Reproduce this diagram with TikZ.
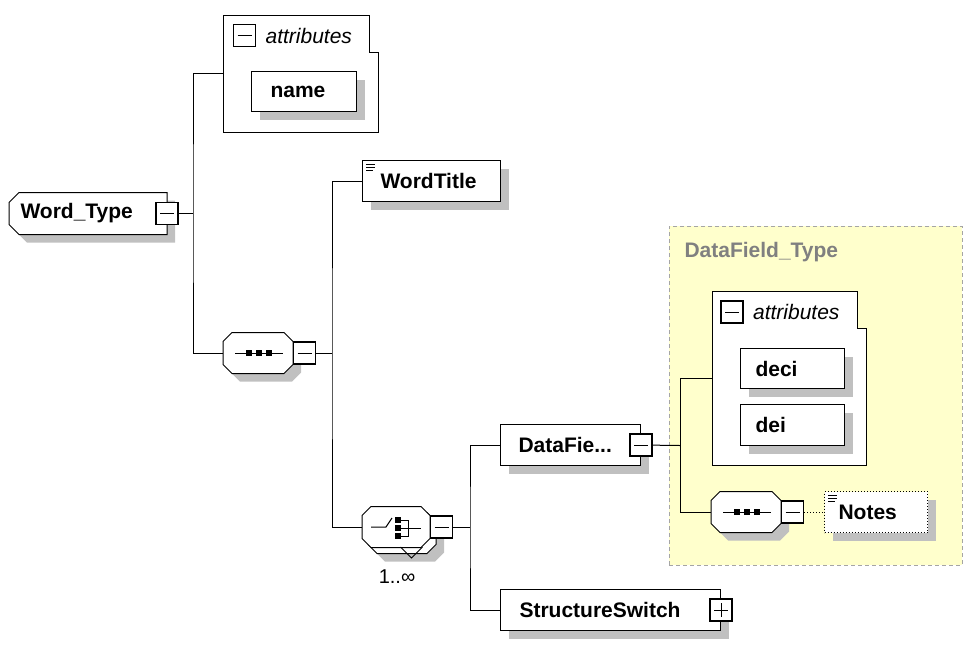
\documentclass[tikz,border=0pt]{standalone}
\usepackage{fontspec}
\setmainfont{Liberation Sans}
\usetikzlibrary{positioning,calc,shadows,backgrounds}

\definecolor{shadowgray}{RGB}{192,192,192}
\definecolor{typeyellow}{RGB}{255,255,204}
\definecolor{typeframe}{RGB}{165,165,165}
\definecolor{typetext}{RGB}{128,128,128}

\tikzset{
  lbl/.style={font=\fontsize{21}{25}\selectfont\bfseries},
  shade/.style={drop shadow={shadow xshift=8pt, shadow yshift=-8pt, fill=shadowgray, opacity=1}},
  elem/.style={lbl, draw, fill=white, anchor=north west, minimum height=41pt, align=left, shade},
  compo/.style={anchor=west, minimum width=69pt, minimum height=40pt, inner sep=0pt},
  group/.style={anchor=north west, inner sep=0pt, outer sep=0pt},
  typebox/.style={group, draw=typeframe, dash pattern=on 4pt off 3pt, fill=typeyellow},
  boxsign/.style={draw, fill=white, line width=1.2pt, minimum size=22pt, inner sep=0pt},
  minus/.style={boxsign, path picture={\draw[line width=0.8pt] ([xshift=4pt]path picture bounding box.west) -- ([xshift=-4pt]path picture bounding box.east);}},
  plus/.style={boxsign, path picture={\draw[line width=0.8pt] ([xshift=4pt]path picture bounding box.west) -- ([xshift=-4pt]path picture bounding box.east);
    \draw[line width=0.8pt] ([yshift=-4pt]path picture bounding box.north) -- ([yshift=4pt]path picture bounding box.south);}},
  attrtext/.style={font=\fontsize{21}{25}\selectfont\itshape, anchor=west, inner sep=0pt}
}

% outline with cut corners round a node (left cut, right cut)
\newcommand{\octframe}[4][]{%
  \draw[fill=white, line width=1pt, #1] ($(#2.north west)+(#3,0)$) -- ($(#2.north east)+(-#4,0)$) -- ($(#2.north east)+(0,#4)$)
    -- ($(#2.south east)+(0,-#4)$) -- ($(#2.south east)+(-#4,0)$) -- ($(#2.south west)+(#3,0)$)
    -- ($(#2.south west)+(0,-#3)$) -- ($(#2.north west)+(0,#3)$) -- cycle;}
% tabbed outline of an attributes group
\newcommand{\attrframe}[1]{%
  \draw[fill=white] (#1.south west) -- (#1.north west) -| ($(#1.north east)+(-9,37)$) -| (#1.south east) -- cycle;}
% small text lines of an annotated element
\newcommand{\docmark}[1]{%
  \foreach \dy/\len in {4/9,7/9,10/7}
    \draw[line width=0.7pt] ($(#1.north west)+(4,\dy)$) -- ++(\len,0);}
% sequence symbol
\newcommand{\seqmark}[1]{%
  \draw ($(#1.center)+(-23,0)$) -- ($(#1.center)+(25,0)$);
  \foreach \dx in {-9,1,11}
    \fill ($(#1.center)+(\dx-3,-3)$) rectangle ++(6,6);}

\begin{document}
\begin{tikzpicture}[x=1pt, y=-1pt, line width=1pt]
\useasboundingbox (0,0) rectangle (973,648);

% type region
\node[typebox, minimum width=293pt, minimum height=339pt] (dftype) at (669,226) {};
\node[lbl, text=typetext, anchor=west, inner sep=0pt] (dftitle) at ($(dftype.north west)+(15,26)$) {DataField\_Type};

% root element
\node[lbl, anchor=west, minimum height=41pt, inner xsep=11pt, text width=135pt, align=left] (wtype) at (9,213.5) {Word\_Type};
\begin{scope}[on background layer]
  \octframe[shade, draw=black]{wtype}{10}{0}
\end{scope}
\node[minus] (wtypemin) at (wtype.east) {};

% attributes of the root
\node[group, minimum width=155pt, minimum height=117pt] (attr1) at (223,15) {};
\attrframe{attr1}
\node[minus] (attr1min) at ($(attr1.north west)+(21.5,20.5)$) {};
\node[attrtext, right=9pt of attr1min] (attr1txt) {attributes};
\node[elem, inner xsep=19pt, text width=67pt, minimum height=40pt] (aname) at (251,71) {name};

% sequence
\node[compo] (seq1) at (223,353) {};
\octframe[shade]{seq1}{9}{9}
\seqmark{seq1}
\node[minus, right=0pt of seq1] (seq1min) {};

\node[elem, inner xsep=18pt, text width=102pt] (wtitle) at (362,160) {WordTitle};
\docmark{wtitle}

% choice, repeated
\node[compo, minimum width=67pt] (ch1back) at (368,533) {};
\octframe[shade]{ch1back}{9}{9}
\node[compo, minimum width=67pt] (ch1) at (362,527) {};
\octframe{ch1}{9}{9}
\begin{scope}[shift={(ch1.center)}]
  \draw (-25,0) -- (-10,0) -- (-4,-9);
  \foreach \dy in {-7,1,9}
    \fill (-1.5,\dy-3) rectangle ++(6,6);
  \draw (4.5,-7) -| (12.5,9) -- (4.5,9);
  \draw (4.5,1) -- (24.5,1);
  \draw (4.5,20) -- (15.5,31) -- (26.5,20);
\end{scope}
\node[minus, right=0pt of ch1] (ch1min) {};
\node[font=\fontsize{20}{24}\selectfont, inner sep=0pt] (ch1occ) at (397,577) {1..∞};

\node[elem, inner xsep=18pt, text width=104pt] (dfield) at (500,424) {DataFie...};
\node[minus] (dfieldmin) at (dfield.east) {};
\node[elem, inner xsep=19pt, text width=182pt] (sswitch) at (500,589) {StructureSwitch};
\node[plus] (sswitchplus) at (sswitch.east) {};

% content of DataField_Type
\node[group, minimum width=154pt, minimum height=174pt] (attr2) at (712,291) {};
\attrframe{attr2}
\node[minus] (attr2min) at ($(attr2.north west)+(20,21)$) {};
\node[attrtext, right=9pt of attr2min] (attr2txt) {attributes};
\node[elem, inner xsep=15pt, text width=74pt, minimum height=40pt] (adeci) at (740,348) {deci};
\node[elem, inner xsep=15pt, text width=74pt] (adei) at (740,404) {dei};

\node[compo] (seq2) at (711,512) {};
\octframe[shade]{seq2}{9}{9}
\seqmark{seq2}
\node[minus, right=0pt of seq2] (seq2min) {};
\node[elem, dotted, inner xsep=14pt, text width=75pt] (notes) at (824,491) {Notes};
\docmark{notes}

% connectors
\coordinate (j1) at (193,213.5);
\coordinate (j2) at (332,353);
\coordinate (j3) at (470,527);
\coordinate (j4) at (680,445.5);
\draw (wtypemin) -- (j1);
\draw (attr1.west) -| (j1) |- (seq1.west);
\draw (seq1min) -- (j2);
\draw (wtitle.west) -| (j2) |- (ch1.west);
\draw (ch1min) -- (j3);
\draw (dfield.west) -| (j3) |- (sswitch.west);
\draw (dfieldmin) -- (j4);
\draw (attr2.west) -| (j4) |- (seq2.west);
\draw[dotted] (seq2min) -- (notes.west);
\end{tikzpicture}
\end{document}
